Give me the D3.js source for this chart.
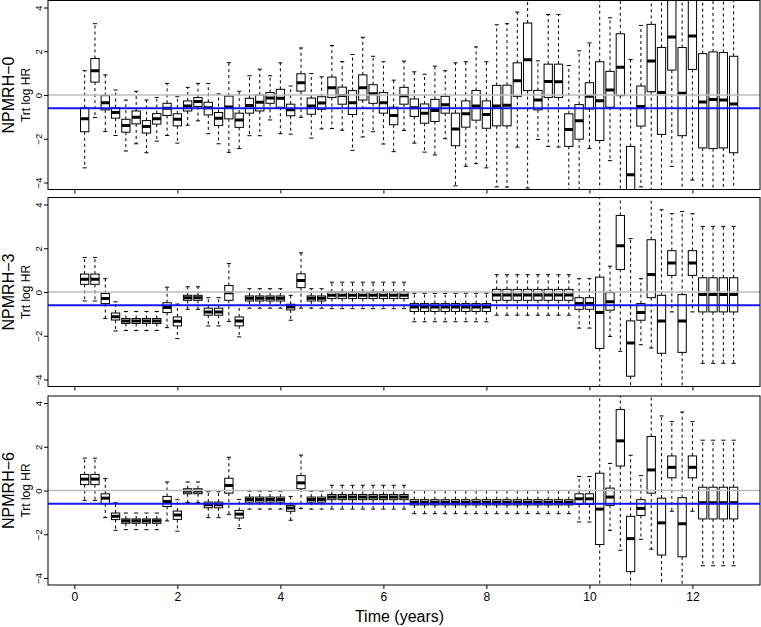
<!DOCTYPE html>
<html><head><meta charset="utf-8">
<script src="https://cdn.jsdelivr.net/npm/d3@7"></script>
<style>
body{margin:0;background:#fff}
text{font-family:"Liberation Sans",Arial,Helvetica,sans-serif;fill:#000}
</style>
</head><body>
<svg id="c" width="761" height="627"></svg>
<script>
const times = [0.2,0.4,0.6,0.8,1.0,1.2,1.4,1.6,1.8,2.0,2.2,2.4,2.6,2.8,3.0,3.2,3.4,3.6,3.8,4.0,4.2,4.4,4.6,4.8,5.0,5.2,5.4,5.6,5.8,6.0,6.2,6.4,6.6,6.8,7.0,7.2,7.4,7.6,7.8,8.0,8.2,8.4,8.6,8.8,9.0,9.2,9.4,9.6,9.8,10.0,10.2,10.4,10.6,10.8,11.0,11.2,11.4,11.6,11.8,12.0,12.2,12.4,12.6,12.8];
const xTicks = [0,2,4,6,8,10,12];
const yTicks = [-4,-2,0,2,4];
const panelNames = ["NPMRH\u22120","NPMRH\u22123","NPMRH\u22126"];
const yLabel = "Trt log HR";
const xLabel = "Time (years)";
const refValue = -0.6;

// Panel NPMRH-0 : upper whisker, Q3, median, Q1, lower whisker
const p0Hi = [1.11,3.26,0.92,0.23,-0.23,0.17,-0.23,-0.11, 0.53,-0.08,0.35,0.53,0.53,0.05,1.48,0.17, 0.88,1.18,0.88,1.47,0.41,2.15,0.98,0.83, 2.26,1.53,1.85,2.64,1.77,1.52,0.68,1.55, 1.06,0.95,1.32,1.11,1.47,1.52,2.20,1.52, 3.21,3.26,3.79,4.8,1.56,3.68,3.68,1.35, 2.02,2.38,4.9,3.53,5.0,1.62,3.18,5.5, 5.2,7.0,5.3,7.0,5.5,5.5,5.5,5.5];
const p0Q3 = [-0.58,1.67,-0.03,-0.58,-1.11,-0.73,-1.17,-0.85, -0.38,-0.86,-0.27,-0.12,-0.33,-0.80,-0.05,-0.83, -0.15,0.00,0.11,0.26,-0.42,0.97,-0.14,-0.08, 0.82,0.36,0.20,0.92,0.47,0.11,-0.56,0.35, -0.18,-0.41,-0.20,-0.06,-0.83,-0.27,0.21,-0.27, 0.44,0.45,1.47,3.29,0.21,1.41,1.41,-0.86, -0.44,0.56,1.52,1.08,2.80,-2.35,0.41,3.23, 2.17,4.6,2.17,4.6,1.89,1.97,1.94,1.77];
const p0Med = [-1.08,1.11,-0.35,-0.80,-1.39,-1.02,-1.44,-1.08, -0.61,-1.11,-0.50,-0.30,-0.58,-1.06,-0.55,-1.14, -0.48,-0.33,-0.14,-0.15,-0.67,0.56,-0.50,-0.36, 0.33,-0.02,-0.35,0.33,0.06,-0.35,-0.94,-0.03, -0.58,-0.83,-0.71,-0.44,-1.55,-0.86,-0.50,-0.89, -0.50,-0.47,0.65,1.61,-0.23,0.62,0.61,-1.58, -1.18,-0.06,-0.26,0.23,1.27,-3.64,-0.53,1.55, 0.11,2.65,0.08,2.70,-0.32,-0.21,-0.23,-0.41];
const p0Q1 = [-1.68,0.59,-0.68,-1.06,-1.70,-1.32,-1.74,-1.33, -0.94,-1.41,-0.73,-0.53,-0.91,-1.39,-1.09,-1.48, -0.83,-0.73,-0.38,-0.56,-0.95,0.18,-0.88,-0.65, -0.11,-0.42,-0.89,-0.23,-0.38,-0.83,-1.36,-0.42, -0.98,-1.29,-1.21,-0.83,-2.32,-1.47,-1.15,-1.52, -1.41,-1.41,-0.06,0.20,-0.68,-0.11,-0.11,-2.35, -2.02,-0.64,-2.08,-0.56,-0.03,-4.9,-1.42,0.15, -1.80,1.14,-1.86,1.17,-2.42,-2.45,-2.42,-2.64];
const p0Lo = [-3.33,-1.03,-1.67,-1.85,-2.56,-2.23,-2.64,-2.11, -1.85,-2.20,-1.38,-1.18,-1.77,-2.23,-2.62,-2.45, -1.86,-1.86,-1.14,-1.77,-1.79,-1.02,-1.97,-1.55, -1.53,-1.61,-2.53,-1.92,-1.68,-2.24,-2.59,-1.62, -2.20,-2.61,-2.74,-2.00,-4.15,-3.26,-3.14,-3.33, -4.20,-4.21,-2.38,-4.25,-2.03,-2.35,-2.38,-4.8, -4.7,-2.44,-4.9,-3.00,-4.6,-6.5,-4.20,-4.5, -5.0,-3.26,-5.0,-3.89,-5.5,-5.5,-5.5,-5.5];

// Panel NPMRH-3
const p3Hi = [1.58,1.58,0.61,-0.45,-0.89,-0.89,-0.89,-0.89, 0.22,-0.55,0.24,0.24,-0.26,-0.26,1.30,-0.61, 0.15,0.15,0.15,0.15,-0.15,1.79,0.15,0.15, 0.45,0.45,0.45,0.45,0.45,0.45,0.45,0.45, -0.06,-0.06,-0.06,-0.06,-0.06,-0.06,-0.06,-0.06, 0.79,0.79,0.79,0.79,0.79,0.79,0.79,0.79, 0.61,0.61,5.0,1.18,5.0,2.44,0.61,5.0, 3.76,3.58,3.68,3.58,3.0,3.0,3.0,3.0];
const p3Q3 = [0.82,0.82,-0.07,-0.96,-1.21,-1.21,-1.21,-1.21, -0.49,-1.14,-0.15,-0.15,-0.74,-0.74,0.30,-1.14, -0.18,-0.18,-0.18,-0.18,-0.56,0.83,-0.18,-0.18, 0.0,0.0,0.0,0.0,0.0,0.0,0.0,0.0, -0.53,-0.53,-0.53,-0.53,-0.53,-0.53,-0.53,-0.53, 0.12,0.12,0.12,0.12,0.12,0.12,0.12,0.12, -0.26,-0.26,0.68,-0.03,3.50,-1.32,-0.53,2.39, -0.15,1.89,-0.12,1.89,0.65,0.65,0.65,0.65];
const p3Med = [0.58,0.58,-0.30,-1.13,-1.32,-1.32,-1.32,-1.32, -0.71,-1.34,-0.26,-0.26,-0.91,-0.91,-0.03,-1.33, -0.29,-0.29,-0.29,-0.29,-0.68,0.53,-0.29,-0.29, -0.15,-0.15,-0.15,-0.15,-0.15,-0.15,-0.15,-0.15, -0.68,-0.68,-0.68,-0.68,-0.68,-0.68,-0.68,-0.68, -0.14,-0.14,-0.14,-0.14,-0.14,-0.14,-0.14,-0.14, -0.53,-0.53,-0.94,-0.44,2.12,-2.33,-0.94,0.80, -1.33,1.33,-1.32,1.33,-0.11,-0.11,-0.11,-0.11];
const p3Q1 = [0.35,0.35,-0.53,-1.28,-1.44,-1.44,-1.44,-1.44, -0.94,-1.55,-0.38,-0.38,-1.06,-1.06,-0.38,-1.55, -0.41,-0.41,-0.41,-0.41,-0.82,0.20,-0.41,-0.41, -0.30,-0.30,-0.30,-0.30,-0.30,-0.30,-0.30,-0.30, -0.89,-0.89,-0.89,-0.89,-0.89,-0.89,-0.89,-0.89, -0.38,-0.38,-0.38,-0.38,-0.38,-0.38,-0.38,-0.38, -0.79,-0.79,-2.58,-0.83,1.03,-3.85,-1.29,-0.26, -2.80,0.76,-2.76,0.76,-0.91,-0.91,-0.91,-0.91];
const p3Lo = [-0.41,-0.41,-1.21,-1.78,-1.76,-1.76,-1.76,-1.76, -1.63,-2.13,-0.79,-0.79,-1.55,-1.55,-1.35,-2.05, -0.74,-0.74,-0.74,-0.74,-1.29,-0.74,-0.74,-0.74, -0.76,-0.76,-0.76,-0.76,-0.76,-0.76,-0.76,-0.76, -1.36,-1.36,-1.36,-1.36,-1.36,-1.36,-1.36,-1.36, -1.06,-1.06,-1.06,-1.06,-1.06,-1.06,-1.06,-1.06, -1.65,-1.65,-5.0,-2.03,-2.71,-5.5,-2.41,-2.56, -5.0,-0.91,-5.0,-0.91,-3.26,-3.26,-3.26,-3.26];

// Panel NPMRH-6
const p6Hi = [1.48,1.48,0.55,-0.56,-1.03,-1.03,-1.03,-1.03, 0.39,-0.42,0.39,0.39,-0.06,-0.06,1.52,-0.41, -0.03,-0.03,-0.03,-0.03,-0.27,1.62,-0.03,-0.03, 0.24,0.24,0.24,0.24,0.24,0.24,0.24,0.24, 0.0,0.0,0.0,0.0,0.0,0.0,0.0,0.0, 0.0,0.0,0.0,0.0,0.0,0.0,0.0,0.0, 0.64,0.64,5.0,1.24,5.0,1.61,0.68,5.0, 3.41,3.15,3.59,3.15,2.30,2.30,2.30,2.30];
const p6Q3 = [0.73,0.73,-0.15,-1.03,-1.30,-1.30,-1.30,-1.30, -0.27,-0.94,0.08,0.08,-0.53,-0.53,0.56,-0.91, -0.30,-0.30,-0.30,-0.30,-0.68,0.68,-0.30,-0.30, -0.18,-0.18,-0.18,-0.18,-0.18,-0.18,-0.18,-0.18, -0.42,-0.42,-0.42,-0.42,-0.42,-0.42,-0.42,-0.42, -0.42,-0.42,-0.42,-0.42,-0.42,-0.42,-0.42,-0.42, -0.15,-0.15,0.79,0.11,3.70,-1.18,-0.42,2.47, -0.35,1.58,-0.33,1.58,0.15,0.15,0.15,0.15];
const p6Med = [0.52,0.52,-0.35,-1.18,-1.39,-1.39,-1.39,-1.39, -0.50,-1.12,-0.03,-0.03,-0.65,-0.65,0.23,-1.08, -0.41,-0.41,-0.41,-0.41,-0.80,0.35,-0.41,-0.41, -0.30,-0.30,-0.30,-0.30,-0.30,-0.30,-0.30,-0.30, -0.54,-0.54,-0.54,-0.54,-0.54,-0.54,-0.54,-0.54, -0.54,-0.54,-0.54,-0.54,-0.54,-0.54,-0.54,-0.54, -0.38,-0.38,-0.85,-0.30,2.27,-2.20,-0.82,0.94, -1.48,1.06,-1.52,1.06,-0.56,-0.56,-0.56,-0.56];
const p6Q1 = [0.27,0.27,-0.61,-1.33,-1.50,-1.50,-1.50,-1.50, -0.73,-1.32,-0.15,-0.15,-0.79,-0.79,-0.12,-1.26, -0.53,-0.53,-0.53,-0.53,-0.95,0.08,-0.53,-0.53, -0.42,-0.42,-0.42,-0.42,-0.42,-0.42,-0.42,-0.42, -0.66,-0.66,-0.66,-0.66,-0.66,-0.66,-0.66,-0.66, -0.66,-0.66,-0.66,-0.66,-0.66,-0.66,-0.66,-0.66, -0.64,-0.64,-2.47,-0.68,1.12,-3.71,-1.14,-0.12, -2.95,0.58,-3.03,0.58,-1.30,-1.30,-1.30,-1.30];
const p6Lo = [-0.45,-0.45,-1.24,-1.82,-1.79,-1.79,-1.79,-1.79, -1.39,-1.86,-0.55,-0.55,-1.24,-1.24,-1.09,-1.74, -0.85,-0.85,-0.85,-0.85,-1.36,-0.83,-0.85,-0.85, -0.85,-0.85,-0.85,-0.85,-0.85,-0.85,-0.85,-0.85, -1.06,-1.06,-1.06,-1.06,-1.06,-1.06,-1.06,-1.06, -1.06,-1.06,-1.06,-1.06,-1.06,-1.06,-1.06,-1.06, -1.44,-1.44,-5.0,-1.82,-2.73,-5.5,-2.23,-2.68, -5.0,-0.95,-5.0,-0.95,-3.44,-3.44,-3.44,-3.44];

const svg = d3.select("#c");
const x = d3.scaleLinear().domain([-0.512, 13.312]).range([48, 760]);
const H = 189;
const panels = [
  {name: panelNames[0], top: 0.5,   hi: p0Hi, q3: p0Q3, med: p0Med, q1: p0Q1, lo: p0Lo},
  {name: panelNames[1], top: 197.5, hi: p3Hi, q3: p3Q3, med: p3Med, q1: p3Q1, lo: p3Lo},
  {name: panelNames[2], top: 396,   hi: p6Hi, q3: p6Q3, med: p6Med, q1: p6Q1, lo: p6Lo}
];
const boxW = 8.3;
const defs = svg.append("defs");

panels.forEach((p, i) => {
  const y = d3.scaleLinear().domain([-4.32, 4.32]).range([p.top + H, p.top]);
  const g = svg.append("g");
  defs.append("clipPath").attr("id", "clip" + i)
    .append("rect").attr("x", 48).attr("y", p.top).attr("width", 712).attr("height", H);
  const plot = g.append("g").attr("clip-path", `url(#clip${i})`);

  const rows = times.map((t, j) => ({t, hi: p.hi[j], q3: p.q3[j], med: p.med[j], q1: p.q1[j], lo: p.lo[j]}));
  const bx = plot.selectAll("g.bx").data(rows).join("g").attr("class", "bx");
  // whiskers
  bx.append("line").attr("x1", d => x(d.t)).attr("x2", d => x(d.t))
    .attr("y1", d => y(d.q3)).attr("y2", d => y(d.hi))
    .attr("stroke", "#000").attr("stroke-width", 1).attr("stroke-dasharray", "3,3");
  bx.append("line").attr("x1", d => x(d.t)).attr("x2", d => x(d.t))
    .attr("y1", d => y(d.q1)).attr("y2", d => y(d.lo))
    .attr("stroke", "#000").attr("stroke-width", 1).attr("stroke-dasharray", "3,3");
  // staples
  bx.append("line").attr("x1", d => x(d.t) - boxW / 4).attr("x2", d => x(d.t) + boxW / 4)
    .attr("y1", d => y(d.hi)).attr("y2", d => y(d.hi)).attr("stroke", "#000");
  bx.append("line").attr("x1", d => x(d.t) - boxW / 4).attr("x2", d => x(d.t) + boxW / 4)
    .attr("y1", d => y(d.lo)).attr("y2", d => y(d.lo)).attr("stroke", "#000");
  // boxes
  bx.append("rect").attr("x", d => x(d.t) - boxW / 2).attr("width", boxW)
    .attr("y", d => y(d.q3)).attr("height", d => y(d.q1) - y(d.q3))
    .attr("fill", "#fff").attr("stroke", "#000").attr("stroke-width", 1);
  // medians
  bx.append("line").attr("x1", d => x(d.t) - boxW / 2).attr("x2", d => x(d.t) + boxW / 2)
    .attr("y1", d => y(d.med)).attr("y2", d => y(d.med))
    .attr("stroke", "#000").attr("stroke-width", 3);

  // reference lines
  plot.append("line").attr("x1", 48).attr("x2", 760).attr("y1", y(0)).attr("y2", y(0))
    .attr("stroke", "#bdbdbd").attr("stroke-width", 1.6);
  plot.append("line").attr("x1", 48).attr("x2", 760).attr("y1", y(refValue)).attr("y2", y(refValue))
    .attr("stroke", "#1414f5").attr("stroke-width", 2);

  // frame
  g.append("rect").attr("x", 48).attr("y", p.top).attr("width", 712).attr("height", H)
    .attr("fill", "none").attr("stroke", "#000").attr("stroke-width", 1);

  // x axis
  const xa = g.append("g").attr("transform", `translate(0,${p.top + H})`)
    .call(d3.axisBottom(x).tickValues(xTicks).tickSize(4).tickPadding(3)
      .tickFormat(i === 2 ? d3.format("d") : () => ""));
  xa.select(".domain").remove();
  xa.selectAll("text").style("font-size", "12px").attr("fill", "#000");

  // y axis
  const ya = g.append("g").attr("transform", `translate(48,0)`)
    .call(d3.axisLeft(y).tickValues(yTicks).tickSize(4).tickFormat(d3.format("d")));
  ya.select(".domain").remove();
  ya.selectAll("text")
    .attr("x", null).attr("dy", null)
    .attr("text-anchor", "middle")
    .attr("transform", "translate(-6,0) rotate(-90)")
    .style("font-size", "9.5px").attr("fill", "#000");

  // labels
  const cy = p.top + H / 2;
  g.append("text").attr("transform", `translate(30,${cy}) rotate(-90)`)
    .attr("text-anchor", "middle").style("font-size", "12px").text(yLabel);
  g.append("text").attr("transform", `translate(13.5,${cy}) rotate(-90)`)
    .attr("text-anchor", "middle").style("font-size", "16px").text(p.name);
});

svg.append("text").attr("x", 399.5).attr("y", 622).attr("text-anchor", "middle")
  .style("font-size", "16px").text(xLabel);
</script>
</body></html>
